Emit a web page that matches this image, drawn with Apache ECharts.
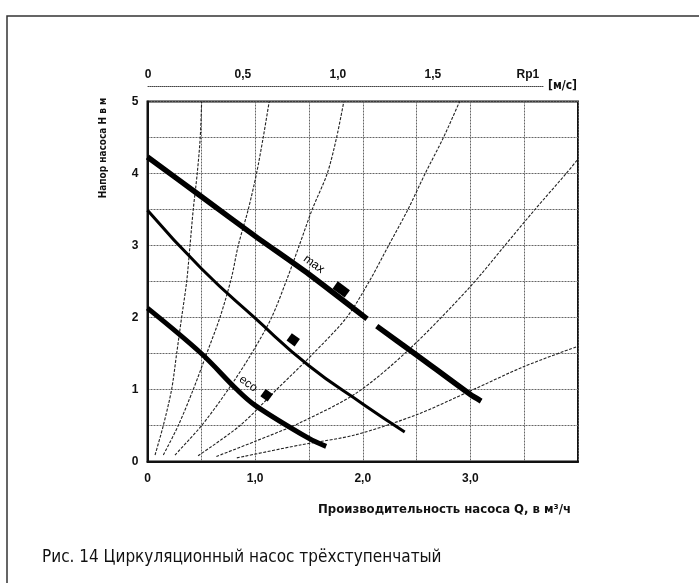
<!DOCTYPE html>
<html>
<head>
<meta charset="utf-8">
<script src="https://cdn.jsdelivr.net/npm/echarts@6/dist/echarts.min.js"></script>
<style>html,body{margin:0;padding:0;background:#fff}#c{width:699px;height:583px}</style>
</head>
<body>
<div id="c"></div>
<script>
// ---- data ----
const xTickLabels = {0: "0", 1: "1,0", 2: "2,0", 3: "3,0"};
const yTickLabels = {0: "0", 1: "1", 2: "2", 3: "3", 4: "4", 5: "5"};
const topTickValues = [0, 0.5, 1, 1.5, 2];
const topTickLabels = ["0", "0,5", "1,0", "1,5", "Rp1"];

const maxCurve = [[0,4.23],[0.5,3.68],[1,3.13],[1.5,2.6],[2.04,1.98],'-',[2.13,1.88],[2.5,1.48],[3,0.93],[3.1,0.84]];
const midCurve = [[0,3.49],[0.5,2.68],[1,1.99],[1.5,1.33],[2,0.8],[2.39,0.41]];
const ecoCurve = [[0,2.13],[0.5,1.5],[0.83,1.0],[1,0.78],[1.5,0.32],[1.66,0.21]];

const sysA = [[0.07,0.09],[0.147,0.5],[0.224,1.0],[0.271,1.5],[0.317,2.0],[0.364,2.5],[0.395,3.0],[0.425,3.5],[0.462,4.0],[0.49,4.5],[0.503,5.0]];
const sysB = [[0.147,0.09],[0.286,0.5],[0.425,1.0],[0.55,1.5],[0.673,2.0],[0.78,2.55],[0.843,3.0],[0.936,3.5],[1.013,4.0],[1.075,4.5],[1.131,5.0]];
const sysC = [[0.255,0.09],[0.503,0.5],[0.75,1.0],[0.967,1.5],[1.153,2.0],[1.30,2.55],[1.41,3.0],[1.53,3.5],[1.67,4.0],[1.757,4.5],[1.824,5.0]];
const sysD = [[0.47,0.08],[0.86,0.5],[1.2,1.0],[1.54,1.5],[1.85,2.0],[2.06,2.5],[2.24,3.0],[2.42,3.5],[2.58,4.0],[2.75,4.5],[2.9,5.0]];
const sysE = [[0.64,0.07],[1.0,0.28],[1.42,0.54],[1.95,0.96],[2.44,1.57],[3.0,2.43],[3.32,3.0],[3.6,3.5],[3.89,4.0],[4.0,4.2]];
const sysF = [[0.83,0.05],[1.42,0.23],[1.93,0.37],[2.5,0.65],[3.0,0.98],[3.5,1.32],[4.0,1.6]];

const markerPts = [[1.8,2.39],[1.354,1.69],[1.107,0.92]];
const markerSizes = [[15,9],[10,9],[9,9]];
const curveLabels = [{name:"max", pos:[1.546,2.74]}, {name:"eco", pos:[0.936,1.08]}];

const xAxisName = "Производительность насоса Q, в м³/ч";
const yAxisName = "Напор насоса H в м";
const topAxisName = "[м/с]";
const caption = "Рис. 14 Циркуляционный насос трёхступенчатый";

// ---- chart ----
const FONT = "'Liberation Sans', Arial, sans-serif";
const NARROW = "'Liberation Sans Narrow', 'DejaVu Sans Condensed', 'Liberation Sans', sans-serif";
const chart = echarts.init(document.getElementById('c'));

function sys(data) {
  return {type:'line', data:data, smooth:0.3, symbol:'none', silent:true,
    lineStyle:{color:'#222', width:1.1, type:[3,1.5]}, z:3};
}
function pump(data, w, s) {
  return {type:'line', data:data, smooth:s, symbol:'none', silent:true,
    connectNulls:false, lineStyle:{color:'#000', width:w, cap:'butt'}, z:5};
}

chart.setOption({
  animation:false,
  backgroundColor:'#fff',
  grid:[
    {left:147.5, top:101.5, width:430.5, height:360, show:true, borderColor:'#111', borderWidth:2, containLabel:false},
    {left:148, top:85, width:395, height:1, show:false}
  ],
  xAxis:[
    {type:'value', gridIndex:0, min:0, max:4, interval:0.5,
     axisLine:{show:true, lineStyle:{color:'#111', width:2}}, axisTick:{show:false},
     axisLabel:{margin:11, color:'#111', fontFamily:FONT, fontWeight:'bold', fontSize:12,
       showMaxLabel:false,
       formatter:function(v){ return xTickLabels[v] !== undefined ? xTickLabels[v] : ''; }},
     splitLine:{show:true, lineStyle:{color:'#666', width:1, type:[2,1]}}},
    {type:'value', gridIndex:1, position:'top', min:0, max:2.08, interval:0.5,
     axisLine:{show:true, lineStyle:{color:'#444', width:1, type:[1,1]}}, axisTick:{show:false},
     splitLine:{show:false},
     axisLabel:{margin:4, color:'#111', fontFamily:FONT, fontWeight:'bold', fontSize:12,
       formatter:function(v){ for (let i=0;i<topTickValues.length;i++){ if (Math.abs(v-topTickValues[i])<1e-6) return topTickLabels[i]; } return ''; }},
     name:topAxisName, nameLocation:'end', nameGap:5,
     nameTextStyle:{color:'#111', fontFamily:NARROW, fontWeight:'bold', fontSize:12}}
  ],
  yAxis:[
    {type:'value', gridIndex:0, min:0, max:5, interval:0.5,
     axisLine:{show:true, lineStyle:{color:'#111', width:2}}, axisTick:{show:false},
     axisLabel:{margin:9, color:'#111', fontFamily:FONT, fontWeight:'bold', fontSize:12,
       formatter:function(v){ return yTickLabels[v] !== undefined ? yTickLabels[v] : ''; }},
     splitLine:{show:true, lineStyle:{color:'#666', width:1, type:[2,1]}}},
    {type:'value', gridIndex:1, show:false}
  ],
  series:[
    sys(sysA), sys(sysB), sys(sysC), sys(sysD), sys(sysE), sys(sysF),
    pump(maxCurve, 5.5, 0.2), pump(midCurve, 3, 0.5), pump(ecoCurve, 5, 0.35),
    {type:'scatter', silent:true, z:6,
     data: markerPts.map((p,i)=>({value:p, symbolSize:markerSizes[i]})),
     symbol:'rect', symbolRotate:-36, itemStyle:{color:'#000', opacity:1}},
    {type:'scatter', silent:true, z:6, symbolSize:1,
     itemStyle:{color:'#fff', opacity:0},
     data: curveLabels.map(l=>({value:l.pos, name:l.name})),
     label:{show:true, position:'inside', formatter:'{b}', rotate:-36,
       color:'#000', opacity:1, fontFamily:FONT, fontSize:12}}
  ],
  graphic:[
    {type:'rect', shape:{x:7, y:16, width:720, height:620}, style:{fill:'none', stroke:'#333', lineWidth:1.5}, silent:true},
    {type:'text', x:103, y:148, rotation:Math.PI/2,
     style:{text:yAxisName, font:"bold 10px " + NARROW, fill:'#111', textAlign:'center', textVerticalAlign:'middle'}},
    {type:'text', x:571, y:510,
     style:{text:xAxisName, font:"bold 13px " + NARROW, fill:'#111', textAlign:'right', textVerticalAlign:'middle'}},
    {type:'text', x:42, y:558,
     style:{text:caption, font:"17px " + NARROW, fill:'#111', textAlign:'left', textVerticalAlign:'middle'}}
  ]
});
</script>
</body>
</html>
